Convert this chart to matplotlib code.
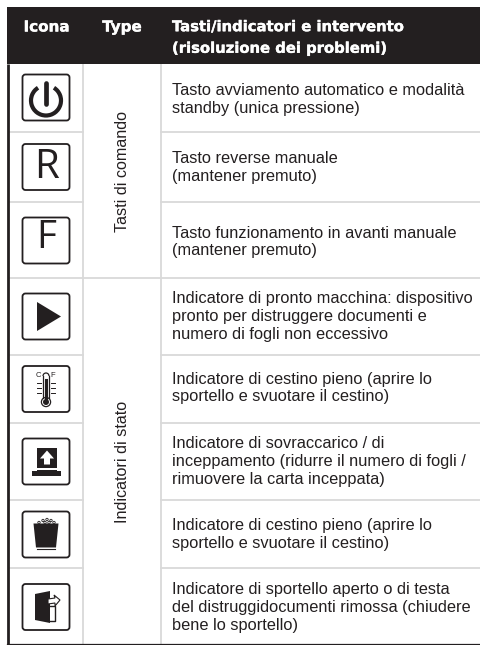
import matplotlib
matplotlib.use("Agg")
import matplotlib.pyplot as plt
import matplotlib.patheffects as pe
from matplotlib.patches import FancyBboxPatch, Polygon, Circle, Rectangle, Arc

headers = ["Icona", "Type", "Tasti/indicatori e intervento\n(risoluzione dei problemi)"]
groups = ["Tasti di comando", "Indicatori di stato"]
descriptions = [
    "Tasto avviamento automatico e modalità\nstandby (unica pressione)",
    "Tasto reverse manuale\n(mantener premuto)",
    "Tasto funzionamento in avanti manuale\n(mantener premuto)",
    "Indicatore di pronto macchina: dispositivo\npronto per distruggere documenti e\nnumero di fogli non eccessivo",
    "Indicatore di cestino pieno (aprire lo\nsportello e svuotare il cestino)",
    "Indicatore di sovraccarico / di\ninceppamento (ridurre il numero di fogli /\nrimuovere la carta inceppata)",
    "Indicatore di cestino pieno (aprire lo\nsportello e svuotare il cestino)",
    "Indicatore di sportello aperto o di testa\ndel distruggidocumenti rimossa (chiudere\nbene lo sportello)",
]
icons = ["power", "R", "F", "play", "therm", "overload", "bin", "door"]

# layout in pixels
row_edges = [64, 132, 202, 278, 355, 423, 500, 568, 644]
text_y = [99.5, 167.5, 242, 316.5, 388, 461.5, 534.5, 607.5]
icon_y = [97.5, 167, 240.5, 316.5, 389, 461.5, 534.5, 607]
group_y = [171.5, 462]
col_x = [7, 83, 161, 481]
DARK = "#231f20"
GRID = "#d9d9d9"
BODY = "Liberation Sans"
HEAD = "DejaVu Sans"

fig = plt.figure(figsize=(4.81, 6.45), dpi=100)
ax = fig.add_axes([0, 0, 1, 1])
ax.set_xlim(0, 481)
ax.set_ylim(645, 0)
ax.axis("off")

heavy = [pe.withStroke(linewidth=0.25, foreground="white")]
ax.add_patch(Rectangle((7, 7), 474, 57, fc=DARK, ec="none", zorder=3))
ax.text(46.5, 27, headers[0], color="white", family=HEAD, weight="bold", fontsize=10.9, ha="center", va="center", zorder=4, path_effects=heavy)
ax.text(122, 27, headers[1], color="white", family=HEAD, weight="bold", fontsize=10.9, ha="center", va="center", zorder=4, path_effects=heavy)
ax.text(172, 37.5, headers[2], color="white", family=HEAD, weight="bold", fontsize=10.65, ha="left", va="center", linespacing=1.55, zorder=4, path_effects=heavy)

for y in row_edges[1:-1]:
    ax.plot([9, 83], [y, y], color=GRID, lw=1.3)
    ax.plot([161, 481], [y, y], color=GRID, lw=1.3)
    if y == 278:
        ax.plot([83, 161], [y, y], color=GRID, lw=1.3)
for x in col_x[1:3]:
    ax.plot([x, x], [64, 644], color=GRID, lw=1.3)
ax.plot([8, 8], [64, 645], color=DARK, lw=2.0, solid_capstyle="butt")
ax.plot([7, 481], [644, 644], color=DARK, lw=0.9)

for d, y in zip(descriptions, text_y):
    ax.text(172, y, d, family=BODY, color=DARK, fontsize=11.75, ha="left", va="center", linespacing=1.22)
for g, y in zip(groups, group_y):
    ax.text(123, y, g, family=BODY, color=DARK, fontsize=11.6, rotation=90, ha="center", va="center")


def draw_icon(kind, cy):
    cx = 46
    ax.add_patch(FancyBboxPatch((cx - 21.5, cy - 21), 43, 42, boxstyle="round,pad=2,rounding_size=3",
                                fc="white", ec=DARK, lw=1.3))
    if kind == "power":
        ax.add_patch(Arc((cx, cy + 3), 30, 30, theta1=-58, theta2=238, color=DARK, lw=3.0))
        ax.plot([cx, cx], [cy - 15, cy + 6], color=DARK, lw=3.4, solid_capstyle="round")
    elif kind == "R":
        ax.text(cx + 1, cy + 0.5, kind, family="Open Sans", fontsize=29, color=DARK, ha="center", va="center")
    elif kind == "F":
        ax.text(cx, cy - 2, kind, family="Open Sans", fontsize=28, color=DARK, ha="center", va="center")
    elif kind == "play":
        ax.add_patch(Polygon([(cx - 9, cy - 14.5), (cx + 15, cy), (cx - 9, cy + 14.5)], fc=DARK, ec="none"))
    elif kind == "therm":
        ax.plot([cx - 3, cx - 3], [cy - 13, cy + 9], color=DARK, lw=0.9)
        ax.plot([cx + 3, cx + 3], [cy - 13, cy + 9], color=DARK, lw=0.9)
        ax.add_patch(Arc((cx, cy - 13), 6, 6, theta1=180, theta2=360, color=DARK, lw=0.9))
        ax.plot([cx, cx], [cy - 9, cy + 10], color=DARK, lw=2.2)
        ax.add_patch(Circle((cx, cy + 13), 4.6, fc="white", ec=DARK, lw=0.9))
        ax.add_patch(Circle((cx, cy + 13), 3.0, fc=DARK, ec="none"))
        for dy in (-6, -1, 4):
            ax.plot([cx - 9, cx - 5], [cy + dy, cy + dy], color=DARK, lw=0.7)
            ax.plot([cx + 5, cx + 9], [cy + dy, cy + dy], color=DARK, lw=0.7)
        ax.text(cx - 7.5, cy - 13.5, "C", family=BODY, fontsize=5.5, color=DARK, ha="center", va="center")
        ax.text(cx + 7, cy - 13.5, "F", family=BODY, fontsize=5.5, color=DARK, ha="center", va="center")
    elif kind == "overload":
        ax.add_patch(Rectangle((cx - 9, cy - 14), 20, 23, fc=DARK, ec="none"))
        ax.add_patch(Polygon([(cx + 1, cy - 11), (cx + 8, cy - 3), (cx + 4, cy - 3), (cx + 4, cy + 3),
                              (cx - 2, cy + 3), (cx - 2, cy - 3), (cx - 6, cy - 3)], fc="white", ec="none"))
        ax.add_patch(Rectangle((cx - 14, cy + 9), 29, 5, fc=DARK, ec="none"))
        ax.add_patch(Rectangle((cx - 13, cy + 6.5), 27, 2, fc="white", ec="none", hatch="|||", lw=0))
    elif kind == "bin":
        ax.add_patch(Polygon([(cx - 12.5, cy - 11), (cx + 12.5, cy - 11), (cx + 10, cy + 13), (cx - 10, cy + 13)],
                             fc=DARK, ec="none"))
        ax.plot([cx - 9, cx + 9], [cy + 14.6, cy + 14.6], color=DARK, lw=0.8)
        for dx, dy in ((-7, -12), (-3, -14), (1, -15), (5, -14), (8, -12), (-1, -12), (3, -12)):
            ax.add_patch(Circle((cx + dx, cy + dy), 1.2, fc="white", ec=DARK, lw=0.6))
    elif kind == "door":
        ax.add_patch(Polygon([(cx - 11, cy - 13), (cx + 4, cy - 16), (cx + 4, cy + 16), (cx - 11, cy + 13)],
                             fc=DARK, ec="none"))
        ax.plot([cx + 4, cx + 9, cx + 9, cx + 4], [cy - 1, cy - 1, cy + 14, cy + 14], color=DARK, lw=1.0)
        ax.add_patch(Polygon([(cx + 2, cy - 8), (cx + 9, cy - 9), (cx + 8, cy - 12), (cx + 14, cy - 7),
                              (cx + 9, cy - 1), (cx + 9, cy - 4), (cx + 2, cy - 3)], fc="white", ec=DARK, lw=0.8))


for k, y in zip(icons, icon_y):
    draw_icon(k, y)

fig.savefig("out.png", dpi=100)
